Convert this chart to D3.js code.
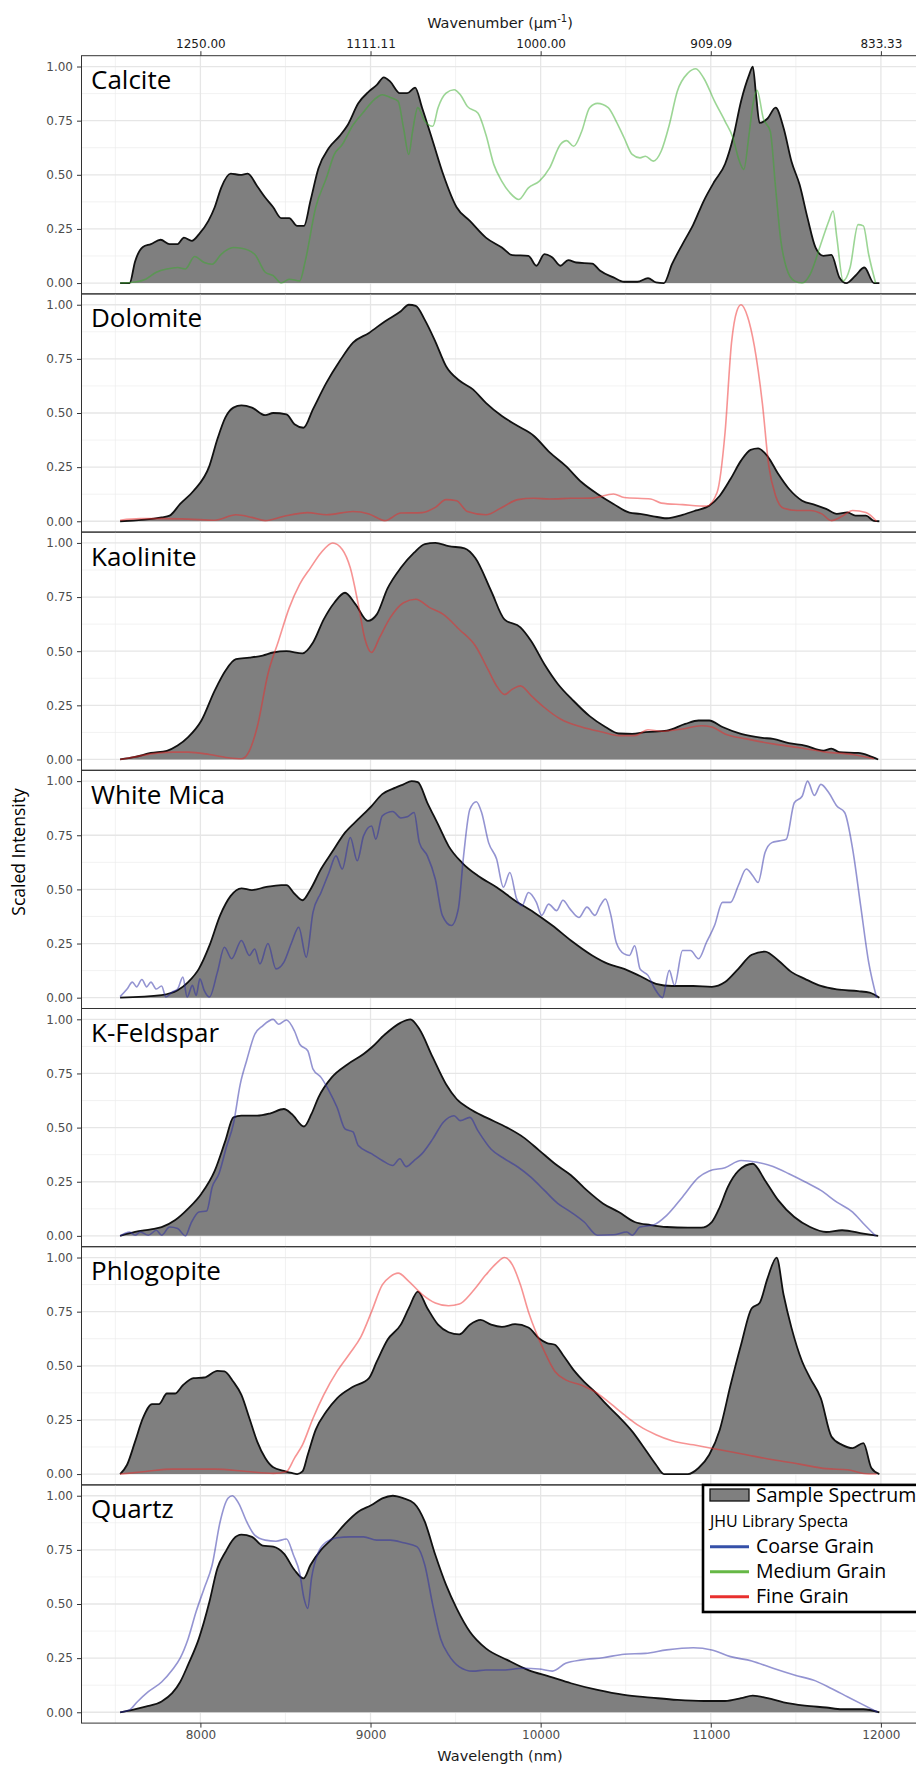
<!DOCTYPE html>
<html>
<head>
<meta charset="utf-8">
<script src="https://cdn.jsdelivr.net/npm/d3@7"></script>
<style>
    body { margin: 0; background: #fff; }
    svg { display: block; }
</style>
</head>
<body>
<div id="chart"></div>
<script>
// panel order + which JHU library spectrum is overlaid on each
const minerals = [`Calcite`, `Dolomite`, `Kaolinite`, `White Mica`, `K-Feldspar`, `Phlogopite`, `Quartz`]
const libraryGrain = [`Medium Grain`, `Fine Grain`, `Fine Grain`, `Coarse Grain`, `Coarse Grain`, `Fine Grain`, `Coarse Grain`]
const grainNames = [`Coarse Grain`, `Medium Grain`, `Fine Grain`]

const wavelengthTicks = [8000, 9000, 10000, 11000, 12000]
const wavenumberLabels = [`1250.00`, `1111.11`, `1000.00`, `909.09`, `833.33`]
const intensityTicks = [0, 0.25, 0.5, 0.75, 1]

// [wavelength nm, scaled intensity]
const calciteSample = [[7528,0],[7584,0],[7616,0.10],[7662,0.167],[7709,0.18],[7766,0.20],[7819,0.18],[7866,0.18],[7903,0.21],[7950,0.195],[7991,0.225],[8047,0.287],[8084,0.35],[8122,0.44],[8178,0.505],[8234,0.50],[8278,0.505],[8334,0.447],[8381,0.395],[8428,0.35],[8475,0.30],[8522,0.30],[8569,0.264],[8609,0.264],[8647,0.38],[8694,0.53],[8756,0.625],[8819,0.68],[8866,0.73],[8928,0.83],[8991,0.885],[9037,0.915],[9078,0.95],[9116,0.93],[9172,0.877],[9216,0.877],[9262,0.903],[9303,0.81],[9366,0.655],[9428,0.50],[9506,0.35],[9584,0.287],[9678,0.21],[9772,0.164],[9834,0.129],[9928,0.126],[9975,0.08],[10022,0.134],[10069,0.118],[10116,0.08],[10162,0.106],[10209,0.095],[10303,0.09],[10350,0.057],[10428,0.026],[10491,0.006],[10569,0.006],[10631,0.023],[10678,0.003],[10725,0],[10772,0.087],[10834,0.18],[10897,0.27],[10959,0.38],[11022,0.47],[11084,0.55],[11131,0.67],[11178,0.84],[11225,0.96],[11247,1.0],[11266,0.87],[11287,0.74],[11334,0.76],[11381,0.81],[11428,0.716],[11475,0.56],[11522,0.455],[11569,0.30],[11616,0.164],[11662,0.126],[11709,0.13],[11756,0.026],[11797,0],[11850,0.034],[11903,0.072],[11959,0],[11991,0]]
const calciteLibrary = [[7528,0],[7616,0.005],[7678,0.018],[7741,0.05],[7803,0.065],[7866,0.072],[7912,0.065],[7966,0.123],[8022,0.095],[8069,0.087],[8122,0.133],[8194,0.164],[8241,0.161],[8319,0.133],[8381,0.05],[8428,0.034],[8475,0],[8522,0.018],[8584,0.01],[8616,0.10],[8678,0.35],[8741,0.486],[8787,0.594],[8834,0.64],[8897,0.73],[8959,0.79],[9022,0.847],[9069,0.87],[9116,0.857],[9162,0.84],[9194,0.716],[9225,0.594],[9247,0.70],[9278,0.81],[9319,0.747],[9366,0.724],[9397,0.81],[9444,0.877],[9491,0.893],[9528,0.87],[9569,0.816],[9631,0.785],[9678,0.686],[9725,0.547],[9772,0.47],[9819,0.417],[9872,0.386],[9928,0.44],[9991,0.47],[10053,0.532],[10116,0.64],[10153,0.658],[10194,0.632],[10241,0.70],[10288,0.81],[10334,0.83],[10397,0.81],[10444,0.747],[10491,0.67],[10538,0.594],[10584,0.578],[10616,0.586],[10662,0.563],[10709,0.61],[10756,0.73],[10803,0.885],[10866,0.97],[10912,0.99],[10959,0.946],[11022,0.84],[11084,0.747],[11131,0.67],[11162,0.578],[11194,0.525],[11225,0.686],[11247,0.82],[11272,0.89],[11309,0.76],[11350,0.70],[11381,0.44],[11412,0.195],[11444,0.072],[11491,0.01],[11537,0],[11584,0.04],[11647,0.18],[11694,0.287],[11719,0.333],[11741,0.21],[11778,0.01],[11819,0.072],[11866,0.27],[11897,0.264],[11928,0.133],[11969,0]]

const dolomiteSample = [[7528,0],[7772,0.018],[7819,0.026],[7881,0.08],[7959,0.14],[8053,0.256],[8100,0.38],[8147,0.48],[8194,0.525],[8241,0.535],[8303,0.525],[8381,0.49],[8428,0.50],[8506,0.494],[8553,0.448],[8606,0.432],[8662,0.518],[8741,0.64],[8819,0.74],[8897,0.825],[8991,0.87],[9084,0.923],[9178,0.97],[9225,1.0],[9266,0.995],[9319,0.93],[9381,0.83],[9444,0.716],[9522,0.65],[9600,0.61],[9678,0.547],[9772,0.486],[9866,0.44],[9959,0.395],[10053,0.318],[10147,0.256],[10241,0.18],[10334,0.126],[10428,0.08],[10522,0.04],[10584,0.034],[10662,0.023],[10741,0.014],[10834,0.03],[10913,0.05],[10991,0.072],[11053,0.118],[11116,0.195],[11178,0.28],[11234,0.33],[11278,0.337],[11334,0.30],[11397,0.218],[11459,0.15],[11537,0.095],[11616,0.075],[11678,0.057],[11741,0.034],[11803,0.041],[11850,0.026],[11912,0.026],[11959,0.002],[11991,0]]
const dolomiteLibrary = [[7528,0.005],[7647,0.012],[7772,0.012],[7928,0.01],[8084,0.005],[8209,0.03],[8303,0.018],[8381,0.003],[8491,0.023],[8631,0.04],[8741,0.03],[8897,0.045],[8991,0.034],[9084,0.003],[9178,0.038],[9303,0.04],[9381,0.064],[9444,0.10],[9506,0.095],[9569,0.045],[9678,0.03],[9772,0.064],[9866,0.10],[9959,0.106],[10053,0.103],[10178,0.106],[10303,0.107],[10428,0.126],[10491,0.11],[10647,0.103],[10709,0.084],[10834,0.077],[10975,0.07],[11037,0.133],[11084,0.41],[11122,0.825],[11153,0.97],[11178,1.0],[11216,0.946],[11256,0.81],[11303,0.547],[11341,0.256],[11381,0.118],[11428,0.06],[11506,0.05],[11584,0.05],[11653,0.034],[11709,0.003],[11772,0.023],[11834,0.05],[11912,0.041],[11975,0]]

const kaoliniteSample = [[7528,0],[7616,0.012],[7709,0.03],[7803,0.04],[7866,0.064],[7928,0.103],[8006,0.18],[8084,0.318],[8147,0.41],[8209,0.463],[8288,0.47],[8366,0.48],[8428,0.494],[8506,0.50],[8600,0.49],[8662,0.54],[8725,0.647],[8787,0.724],[8850,0.77],[8912,0.716],[8984,0.64],[9037,0.67],[9100,0.79],[9178,0.885],[9256,0.955],[9319,0.995],[9381,1.0],[9459,0.985],[9553,0.975],[9616,0.93],[9709,0.778],[9787,0.647],[9881,0.61],[9944,0.547],[10022,0.44],[10100,0.35],[10194,0.27],[10288,0.20],[10381,0.15],[10459,0.12],[10538,0.118],[10616,0.126],[10741,0.133],[10850,0.164],[10928,0.18],[10991,0.18],[11069,0.15],[11178,0.118],[11303,0.10],[11366,0.095],[11459,0.075],[11553,0.064],[11662,0.041],[11709,0.05],[11756,0.034],[11866,0.03],[11928,0.018],[11984,0]]
const kaoliniteLibrary = [[7528,0],[7616,0.012],[7709,0.026],[7834,0.034],[7928,0.034],[8053,0.023],[8162,0.008],[8241,0.003],[8288,0.04],[8334,0.15],[8397,0.395],[8459,0.547],[8522,0.70],[8584,0.81],[8647,0.885],[8709,0.955],[8778,1.0],[8834,0.97],[8881,0.885],[8928,0.716],[8966,0.56],[9006,0.494],[9053,0.563],[9116,0.655],[9194,0.724],[9266,0.74],[9350,0.70],[9428,0.67],[9522,0.60],[9616,0.525],[9694,0.41],[9741,0.34],[9787,0.30],[9834,0.325],[9881,0.34],[9944,0.295],[10022,0.24],[10116,0.187],[10241,0.15],[10366,0.126],[10459,0.11],[10553,0.11],[10631,0.137],[10709,0.13],[10834,0.141],[10944,0.156],[11006,0.15],[11084,0.118],[11209,0.095],[11366,0.072],[11522,0.054],[11678,0.034],[11834,0.023],[11959,0.003]]

const whiteMicaSample = [[7528,0],[7772,0.012],[7866,0.034],[7928,0.072],[7991,0.133],[8053,0.24],[8116,0.38],[8178,0.47],[8241,0.505],[8303,0.497],[8381,0.51],[8475,0.52],[8506,0.52],[8553,0.48],[8600,0.45],[8647,0.50],[8709,0.594],[8772,0.67],[8850,0.762],[8928,0.824],[9006,0.885],[9069,0.94],[9147,0.97],[9194,0.985],[9241,1.0],[9278,0.995],[9334,0.90],[9397,0.80],[9459,0.70],[9537,0.624],[9631,0.563],[9741,0.51],[9850,0.448],[9959,0.395],[10069,0.333],[10178,0.264],[10303,0.195],[10397,0.156],[10491,0.133],[10584,0.10],[10678,0.064],[10772,0.054],[10897,0.054],[11006,0.05],[11084,0.072],[11162,0.133],[11241,0.198],[11319,0.213],[11397,0.172],[11475,0.118],[11553,0.087],[11647,0.054],[11741,0.038],[11866,0.03],[11934,0.023],[11991,0]]
const whiteMicaLibrary = [[7528,0.005],[7569,0.04],[7600,0.072],[7625,0.05],[7656,0.084],[7684,0.05],[7709,0.072],[7741,0.04],[7772,0.054],[7797,0.003],[7834,0.026],[7866,0.04],[7897,0.095],[7922,0.003],[7953,0.057],[7975,0.01],[7997,0.087],[8022,0.034],[8053,0.003],[8100,0.118],[8141,0.233],[8184,0.18],[8241,0.264],[8288,0.195],[8319,0.225],[8350,0.156],[8397,0.25],[8444,0.133],[8491,0.164],[8537,0.256],[8578,0.325],[8622,0.187],[8662,0.395],[8709,0.486],[8756,0.578],[8797,0.655],[8834,0.594],[8881,0.74],[8922,0.632],[8959,0.747],[9006,0.793],[9031,0.732],[9069,0.84],[9131,0.86],[9178,0.83],[9216,0.835],[9256,0.855],[9287,0.716],[9334,0.655],[9381,0.547],[9422,0.38],[9475,0.333],[9516,0.41],[9547,0.655],[9584,0.87],[9622,0.905],[9653,0.855],[9694,0.716],[9741,0.64],[9781,0.51],[9819,0.578],[9859,0.456],[9891,0.425],[9928,0.486],[9975,0.44],[10006,0.38],[10047,0.432],[10094,0.402],[10131,0.45],[10172,0.41],[10225,0.37],[10272,0.418],[10319,0.38],[10350,0.425],[10381,0.456],[10413,0.38],[10444,0.256],[10491,0.202],[10522,0.195],[10553,0.24],[10584,0.133],[10631,0.103],[10672,0.04],[10716,0],[10756,0.126],[10787,0.057],[10834,0.218],[10881,0.218],[10928,0.18],[10975,0.256],[11022,0.333],[11069,0.44],[11116,0.44],[11162,0.518],[11209,0.594],[11247,0.563],[11278,0.532],[11319,0.67],[11359,0.716],[11403,0.724],[11444,0.732],[11491,0.90],[11537,0.93],[11569,1.0],[11609,0.934],[11647,0.985],[11694,0.946],[11741,0.885],[11787,0.855],[11834,0.686],[11881,0.425],[11928,0.164],[11975,0]]

const kFeldsparSample = [[7528,0],[7616,0.018],[7709,0.03],[7772,0.04],[7850,0.072],[7928,0.126],[8006,0.195],[8084,0.30],[8147,0.44],[8194,0.547],[8241,0.555],[8334,0.555],[8412,0.566],[8491,0.586],[8537,0.563],[8609,0.505],[8653,0.563],[8694,0.64],[8772,0.732],[8866,0.793],[8959,0.84],[9006,0.87],[9084,0.93],[9178,0.985],[9234,1.0],[9287,0.955],[9366,0.824],[9444,0.70],[9506,0.632],[9584,0.586],[9678,0.547],[9803,0.50],[9897,0.456],[9991,0.395],[10084,0.333],[10178,0.28],[10272,0.21],[10366,0.15],[10459,0.11],[10553,0.064],[10647,0.05],[10741,0.041],[10866,0.038],[10944,0.038],[11006,0.064],[11053,0.133],[11100,0.225],[11162,0.30],[11247,0.333],[11319,0.256],[11397,0.164],[11491,0.087],[11584,0.041],[11678,0.018],[11772,0.026],[11897,0.01],[11984,0]]
const kFeldsparLibrary = [[7528,0],[7584,0.018],[7616,0.003],[7647,0.018],[7694,0.003],[7741,0.026],[7772,0.003],[7819,0.041],[7866,0.034],[7912,0],[7944,0.057],[7991,0.11],[8037,0.115],[8069,0.225],[8109,0.287],[8153,0.41],[8194,0.517],[8234,0.70],[8272,0.81],[8319,0.93],[8366,0.97],[8428,1.0],[8459,0.977],[8506,0.997],[8553,0.946],[8584,0.885],[8631,0.855],[8662,0.77],[8709,0.732],[8756,0.67],[8803,0.594],[8850,0.494],[8897,0.48],[8928,0.417],[9006,0.38],[9069,0.348],[9131,0.325],[9172,0.356],[9209,0.32],[9256,0.348],[9303,0.38],[9366,0.448],[9428,0.525],[9491,0.555],[9528,0.532],[9584,0.547],[9631,0.486],[9709,0.40],[9787,0.356],[9866,0.318],[9944,0.27],[10022,0.21],[10100,0.15],[10178,0.11],[10256,0.064],[10334,0.003],[10428,0.005],[10506,0.018],[10538,0.003],[10584,0.041],[10662,0.05],[10741,0.095],[10834,0.18],[10928,0.27],[10991,0.30],[11084,0.315],[11178,0.348],[11272,0.34],[11366,0.32],[11459,0.287],[11553,0.25],[11647,0.21],[11741,0.156],[11834,0.11],[11897,0.057],[11969,0]]

const phlogopiteSample = [[7528,0],[7569,0.043],[7616,0.15],[7662,0.258],[7716,0.323],[7756,0.323],[7803,0.372],[7850,0.372],[7897,0.41],[7959,0.443],[8022,0.446],[8100,0.477],[8141,0.474],[8194,0.426],[8241,0.366],[8288,0.258],[8334,0.15],[8381,0.074],[8428,0.031],[8491,0.015],[8537,0.005],[8569,0],[8600,0.012],[8631,0.089],[8678,0.205],[8741,0.29],[8803,0.35],[8897,0.403],[8991,0.443],[9037,0.52],[9100,0.62],[9178,0.69],[9225,0.766],[9278,0.843],[9334,0.766],[9397,0.69],[9459,0.655],[9522,0.645],[9584,0.69],[9647,0.712],[9709,0.69],[9772,0.68],[9850,0.692],[9928,0.677],[9991,0.626],[10037,0.605],[10084,0.597],[10131,0.55],[10194,0.48],[10256,0.426],[10319,0.38],[10381,0.326],[10459,0.265],[10538,0.197],[10616,0.112],[10678,0.043],[10725,0],[10866,0],[10928,0.028],[10991,0.089],[11053,0.205],[11116,0.41],[11178,0.597],[11241,0.766],[11287,0.79],[11334,0.905],[11387,1.0],[11428,0.828],[11475,0.674],[11537,0.52],[11584,0.443],[11647,0.35],[11709,0.174],[11772,0.135],[11834,0.12],[11897,0.143],[11944,0.028],[11991,0]]
const phlogopiteLibrary = [[7528,0],[7678,0.012],[7834,0.023],[8084,0.023],[8272,0.012],[8428,0.003],[8506,0.012],[8553,0.074],[8600,0.135],[8662,0.258],[8725,0.366],[8803,0.474],[8881,0.56],[8944,0.635],[9006,0.75],[9069,0.874],[9116,0.912],[9162,0.928],[9225,0.89],[9303,0.83],[9381,0.79],[9459,0.777],[9522,0.785],[9600,0.843],[9678,0.92],[9741,0.974],[9787,1.0],[9834,0.966],[9881,0.874],[9928,0.75],[9975,0.65],[10022,0.566],[10084,0.474],[10147,0.435],[10241,0.41],[10319,0.38],[10397,0.335],[10491,0.274],[10584,0.22],[10678,0.182],[10772,0.154],[10897,0.135],[11053,0.112],[11209,0.089],[11366,0.066],[11522,0.046],[11678,0.025],[11803,0.02],[11897,0.003],[11975,0]]

const quartzSample = [[7528,0],[7600,0.011],[7678,0.026],[7772,0.05],[7834,0.088],[7881,0.14],[7928,0.22],[7991,0.34],[8053,0.51],[8100,0.665],[8147,0.74],[8194,0.80],[8241,0.82],[8303,0.81],[8366,0.77],[8428,0.765],[8491,0.733],[8553,0.657],[8606,0.618],[8647,0.68],[8709,0.75],[8772,0.80],[8850,0.87],[8928,0.926],[9006,0.957],[9069,0.988],[9131,1.0],[9194,0.988],[9256,0.965],[9319,0.88],[9381,0.726],[9444,0.588],[9506,0.48],[9584,0.372],[9678,0.295],[9803,0.242],[9928,0.195],[10053,0.165],[10178,0.134],[10334,0.103],[10491,0.08],[10647,0.068],[10803,0.057],[10959,0.052],[11084,0.052],[11178,0.065],[11247,0.077],[11334,0.065],[11428,0.046],[11553,0.031],[11678,0.022],[11772,0.014],[11897,0.014],[11991,0]]
const quartzLibrary = [[7528,0],[7584,0.011],[7631,0.05],[7694,0.095],[7772,0.14],[7834,0.195],[7881,0.25],[7928,0.34],[7975,0.465],[8022,0.572],[8069,0.68],[8116,0.88],[8162,0.988],[8188,1.0],[8225,0.965],[8272,0.88],[8319,0.818],[8381,0.795],[8444,0.79],[8506,0.80],[8547,0.726],[8584,0.642],[8609,0.526],[8631,0.48],[8653,0.618],[8694,0.74],[8741,0.787],[8803,0.806],[8881,0.81],[8959,0.81],[9037,0.795],[9116,0.795],[9194,0.783],[9272,0.765],[9319,0.68],[9366,0.495],[9412,0.34],[9459,0.265],[9522,0.21],[9600,0.19],[9678,0.195],[9772,0.195],[9897,0.203],[9991,0.20],[10069,0.19],[10147,0.226],[10241,0.242],[10366,0.252],[10491,0.268],[10616,0.272],[10741,0.288],[10897,0.298],[11006,0.288],[11116,0.257],[11241,0.237],[11366,0.203],[11491,0.172],[11616,0.145],[11709,0.11],[11803,0.072],[11897,0.034],[11981,0]]

const sampleSeries = [calciteSample, dolomiteSample, kaoliniteSample, whiteMicaSample, kFeldsparSample, phlogopiteSample, quartzSample]
const librarySeries = [calciteLibrary, dolomiteLibrary, kaoliniteLibrary, whiteMicaLibrary, kFeldsparLibrary, phlogopiteLibrary, quartzLibrary]

const lineColor = { 'Coarse Grain': `#2a2aa6`, 'Medium Grain': `#3aae2c`, 'Fine Grain': `#f02a2a` }
const keyColor = { 'Coarse Grain': `#3550a8`, 'Medium Grain': `#66b846`, 'Fine Grain': `#e8302e` }

const width = 916,
    height = 1766,
    panelTop = 55.7,
    panelH = 238.2,
    left = 81.5

const tickFont = `"DejaVu Sans", sans-serif`,
    labelFont = `"Open Sans", "Noto Sans", sans-serif`

const svg = d3.select(`#chart`).append(`svg`).attr(`width`, width).attr(`height`, height)

const x = d3.scaleLinear().domain([7304, 12224]).range([82, 919])

const area = (y) => d3.area().curve(d3.curveMonotoneX).x(d => x(d[0])).y0(y(0)).y1(d => y(d[1]))
const line = (y) => d3.line().curve(d3.curveMonotoneX).x(d => x(d[0])).y(d => y(d[1]))

const minorX = d3.range(7500, 12000, 1000)
const minorY = [0.125, 0.375, 0.625, 0.875]

minerals.forEach((name, i) => {
    const top = panelTop + i * panelH
    const y = d3.scaleLinear().domain([-0.05, 1.05]).range([top + panelH, top])
    const g = svg.append(`g`)

    // grid
    g.selectAll(`.mx`).data(minorX).join(`line`)
        .attr(`x1`, d => x(d)).attr(`x2`, d => x(d)).attr(`y1`, top).attr(`y2`, top + panelH)
        .attr(`stroke`, `#ededed`).attr(`stroke-width`, 0.7)
    g.selectAll(`.my`).data(minorY).join(`line`)
        .attr(`x1`, left).attr(`x2`, width).attr(`y1`, d => y(d)).attr(`y2`, d => y(d))
        .attr(`stroke`, `#ededed`).attr(`stroke-width`, 0.7)
    g.selectAll(`.gx`).data(wavelengthTicks).join(`line`)
        .attr(`x1`, d => x(d)).attr(`x2`, d => x(d)).attr(`y1`, top).attr(`y2`, top + panelH)
        .attr(`stroke`, `#e6e6e6`).attr(`stroke-width`, 1.3)
    g.selectAll(`.gy`).data(intensityTicks).join(`line`)
        .attr(`x1`, left).attr(`x2`, width).attr(`y1`, d => y(d)).attr(`y2`, d => y(d))
        .attr(`stroke`, `#e6e6e6`).attr(`stroke-width`, 1.3)

    // sample spectrum
    g.append(`path`).datum(sampleSeries[i]).attr(`d`, area(y)).attr(`fill`, `#7f7f7f`)
    g.append(`path`).datum(sampleSeries[i]).attr(`d`, line(y))
        .attr(`fill`, `none`).attr(`stroke`, `#111`).attr(`stroke-width`, 1.8).attr(`stroke-linejoin`, `round`)

    // library spectrum
    g.append(`path`).datum(librarySeries[i]).attr(`d`, line(y))
        .attr(`fill`, `none`).attr(`stroke`, lineColor[libraryGrain[i]])
        .attr(`stroke-opacity`, 0.5).attr(`stroke-width`, 1.6).attr(`stroke-linejoin`, `round`)

    // border
    g.append(`rect`).attr(`x`, left).attr(`y`, top).attr(`width`, width + 10 - left).attr(`height`, panelH)
        .attr(`fill`, `none`).attr(`stroke`, `#333`).attr(`stroke-width`, 1)

    // y axis
    const ya = g.append(`g`).attr(`transform`, `translate(${left},0)`)
        .call(d3.axisLeft(y).tickValues(intensityTicks).tickFormat(d3.format(`.2f`)).tickSize(4.5).tickPadding(4))
    ya.select(`.domain`).remove()
    ya.selectAll(`line`).attr(`stroke`, `#333`)
    ya.selectAll(`text`).attr(`font-family`, tickFont).attr(`font-size`, 12).attr(`fill`, `#4d4d4d`)

    g.append(`text`).attr(`x`, 91).attr(`y`, top + 33.5).text(name)
        .attr(`font-family`, labelFont).attr(`font-size`, 26).attr(`fill`, `#000`)
})

const bottom = panelTop + minerals.length * panelH

// top axis (wavenumber)
const ta = svg.append(`g`).attr(`transform`, `translate(0,${panelTop})`)
    .call(d3.axisTop(x).tickValues(wavelengthTicks).tickFormat((d, i) => wavenumberLabels[i]).tickSize(4.5).tickPadding(3))
ta.select(`.domain`).remove()
ta.selectAll(`line`).attr(`stroke`, `#333`)
ta.selectAll(`text`).attr(`font-family`, tickFont).attr(`font-size`, 12).attr(`fill`, `#1a1a1a`)

const tt = svg.append(`text`).attr(`x`, 500).attr(`y`, 28).attr(`text-anchor`, `middle`)
    .attr(`font-family`, tickFont).attr(`font-size`, 14.5).attr(`fill`, `#1a1a1a`)
tt.append(`tspan`).text(`Wavenumber (\u00b5m`)
tt.append(`tspan`).attr(`dy`, -6).attr(`font-size`, 10).text(`-1`)
tt.append(`tspan`).attr(`dy`, 6).text(`)`)

// bottom axis (wavelength)
const ba = svg.append(`g`).attr(`transform`, `translate(0,${bottom})`)
    .call(d3.axisBottom(x).tickValues(wavelengthTicks).tickFormat(d3.format(`d`)).tickSize(4.5).tickPadding(3))
ba.select(`.domain`).remove()
ba.selectAll(`line`).attr(`stroke`, `#333`)
ba.selectAll(`text`).attr(`font-family`, tickFont).attr(`font-size`, 12).attr(`fill`, `#4d4d4d`)

svg.append(`text`).attr(`x`, 500).attr(`y`, 1761).attr(`text-anchor`, `middle`)
    .attr(`font-family`, tickFont).attr(`font-size`, 14.5).attr(`fill`, `#1a1a1a`).text(`Wavelength (nm)`)

svg.append(`text`).attr(`transform`, `translate(25,852) rotate(-90)`).attr(`text-anchor`, `middle`)
    .attr(`font-family`, labelFont).attr(`font-size`, 17.5).attr(`fill`, `#000`).text(`Scaled Intensity`)

// legend
const lg = svg.append(`g`)
lg.append(`rect`).attr(`x`, 703).attr(`y`, panelTop + 6 * panelH).attr(`width`, 240).attr(`height`, 1612 - (panelTop + 6 * panelH))
    .attr(`fill`, `#fff`).attr(`stroke`, `#000`).attr(`stroke-width`, 2.6)
lg.append(`rect`).attr(`x`, 710).attr(`y`, 1489).attr(`width`, 39).attr(`height`, 12)
    .attr(`fill`, `#7f7f7f`).attr(`stroke`, `#111`).attr(`stroke-width`, 1.3)
lg.append(`text`).attr(`x`, 756).attr(`y`, 1501.5).text(`Sample Spectrum`)
    .attr(`font-family`, labelFont).attr(`font-size`, 19.5).attr(`fill`, `#000`)
lg.append(`text`).attr(`x`, 710).attr(`y`, 1527).text(`JHU Library Specta`)
    .attr(`font-family`, labelFont).attr(`font-size`, 16).attr(`fill`, `#000`)
grainNames.forEach((grain, k) => {
    const ly = 1546.7 + k * 25
    lg.append(`line`).attr(`x1`, 710).attr(`x2`, 749).attr(`y1`, ly).attr(`y2`, ly)
        .attr(`stroke`, keyColor[grain]).attr(`stroke-width`, 3)
    lg.append(`text`).attr(`x`, 756).attr(`y`, ly + 6.5).text(grain)
        .attr(`font-family`, labelFont).attr(`font-size`, 19.5).attr(`fill`, `#000`)
})
</script>
</body>
</html>
